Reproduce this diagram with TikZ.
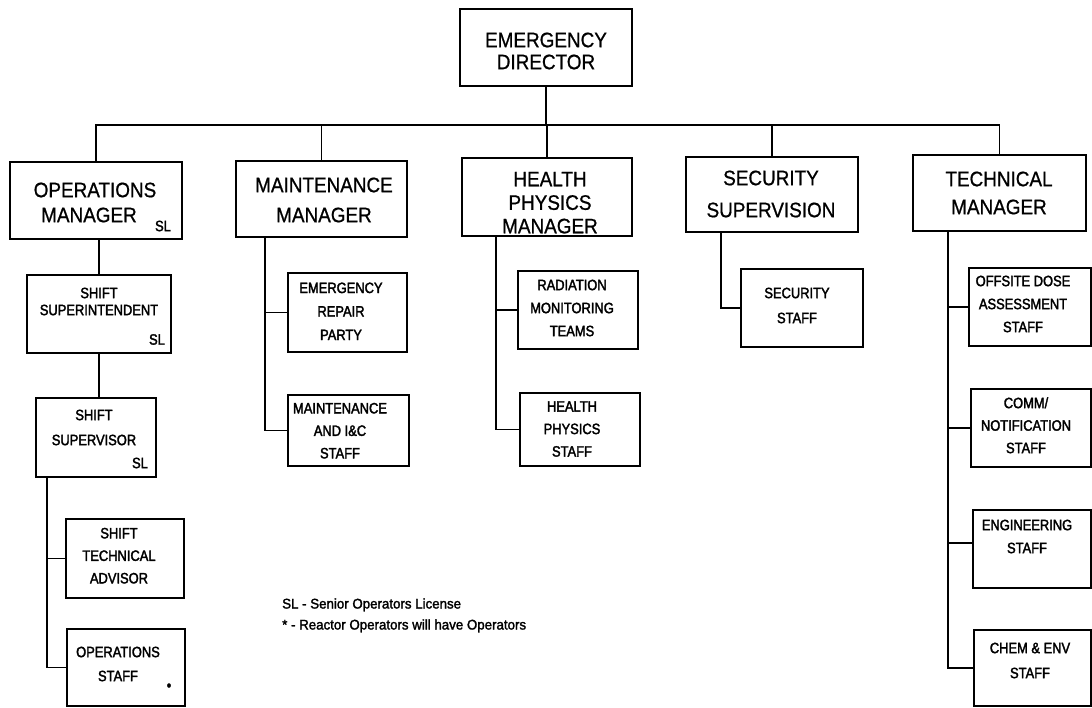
\documentclass[tikz,border=0pt]{standalone}
\usepackage{fontspec}
\setmainfont{Liberation Sans}
\newfontfamily\mgrfont[FakeStretch=0.9,FakeBold=0.8]{Liberation Sans}
\newfontfamily\unitfont[FakeStretch=0.86,FakeBold=2.2]{Liberation Sans}
\newfontfamily\notefont[FakeStretch=0.95,FakeBold=1.8]{Liberation Sans}

\tikzset{
  unitbox/.style 2 args={draw, rectangle, line width=1.8pt, inner sep=0pt, outer sep=0pt,
    minimum width=#1pt, minimum height=#2pt},
  mgrtext/.style={font=\mgrfont\fontsize{21}{#1}\selectfont, align=center, inner sep=0pt},
  unittext/.style={font=\unitfont\fontsize{15}{#1}\selectfont, align=center, inner sep=0pt},
  notetext/.style={font=\notefont\fontsize{14}{17}\selectfont, inner sep=0pt, anchor=base west},
  link/.style={line width=1.8pt},
}

\begin{document}
\begin{tikzpicture}[x=1pt,y=-1pt]
\fill[white] (0,0) rectangle (1092,707);
\useasboundingbox (0,0) rectangle (1092,707);

% ---- top level ----
\node[unitbox={172}{77}] (ed) at (546,47.5) {};
\node[mgrtext=22] at (546,51) {EMERGENCY\\DIRECTOR};

% ---- managers ----
\node[unitbox={172}{77}] (ops) at (96,200.5) {};
\node[mgrtext=25] at (95,190) {OPERATIONS};
\node[mgrtext=25] at (89,215) {MANAGER};
\node[unittext=15] at (163,226) {SL};

\node[unitbox={171}{76}] (maint) at (321.5,199) {};
\node[mgrtext=30] at (324,200) {MAINTENANCE\\MANAGER};

\node[unitbox={170}{78}] (hp) at (547,197) {};
\node[mgrtext=23.5] at (550,202.7) {HEALTH\\PHYSICS\\MANAGER};

\node[unitbox={172}{75}] (sec) at (772,194.5) {};
\node[mgrtext=32] at (771,194) {SECURITY\\SUPERVISION};

\node[unitbox={173}{76}] (tech) at (999.5,193) {};
\node[mgrtext=28] at (999,193) {TECHNICAL\\MANAGER};

% ---- operations chain ----
\node[unitbox={144}{78}] (supt) at (99,314) {};
\node[unittext=17] at (99,301.5) {SHIFT\\SUPERINTENDENT};
\node[unittext=15] at (157,339.5) {SL};

\node[unitbox={120}{79}] (sup) at (96,437.5) {};
\node[unittext=25] at (94,427.5) {SHIFT\\SUPERVISOR};
\node[unittext=15] at (140,463) {SL};

\node[unitbox={118}{79}] (sta) at (125,558.5) {};
\node[unittext=22.5] at (119,555.7) {SHIFT\\TECHNICAL\\ADVISOR};

\node[unitbox={118}{77}] (opst) at (126,667.5) {};
\node[unittext=24] at (118,664) {OPERATIONS\\STAFF};
\node[font=\unitfont\fontsize{15}{15}\selectfont, inner sep=0pt] at (169,687) {•};

% ---- maintenance units ----
\node[unitbox={119}{79}] (erp) at (347.5,312.5) {};
\node[unittext=23.5] at (341,311.3) {EMERGENCY\\REPAIR\\PARTY};

\node[unitbox={121}{71}] (mic) at (348.5,430.5) {};
\node[unittext=22.5] at (340,430.7) {MAINTENANCE\\AND I\&C\\STAFF};

% ---- health physics units ----
\node[unitbox={120}{78}] (rmt) at (578,310) {};
\node[unittext=23] at (572,308) {RADIATION\\MONITORING\\TEAMS};

\node[unitbox={120}{73}] (hps) at (580,429.5) {};
\node[unittext=22.5] at (572,429) {HEALTH\\PHYSICS\\STAFF};

% ---- security unit ----
\node[unitbox={122}{78}] (secst) at (802,308) {};
\node[unittext=25] at (797,305.5) {SECURITY\\STAFF};

% ---- technical units ----
\node[unitbox={122}{78}] (oda) at (1030,307) {};
\node[unittext=23] at (1023,304) {OFFSITE DOSE\\ASSESSMENT\\STAFF};

\node[unitbox={120}{78}] (comm) at (1031,428) {};
\node[unittext=22.5] at (1026,425.3) {COMM/\\NOTIFICATION\\STAFF};

\node[unitbox={118}{78}] (eng) at (1032,549) {};
\node[unittext=23] at (1027,536.5) {ENGINEERING\\STAFF};

\node[unitbox={117}{76}] (chem) at (1032.5,668) {};
\node[unittext=25] at (1030,660.5) {CHEM \& ENV\\STAFF};

% ---- legend ----
\node[notetext] (key1) at (282,608.5) {SL - Senior Operators License};
\node[notetext] (key2) at (282,629.5) {* - Reactor Operators will have Operators};

% ---- connectors ----
\coordinate (bus) at (546,125);
\draw[link] (ed.south) -- (bus);
\draw[link] (ops.north) |- (bus) -| (tech.north);
\draw[link] (maint.north) -- (maint.north |- bus);
\draw[link] (hp.north) -- (hp.north |- bus);
\draw[link] (sec.north) -- (sec.north |- bus);

% operations chain
\draw[link] (supt.north |- ops.south) -- (supt.north);
\draw[link] (supt.south) -- (supt.south |- sup.north);
\coordinate (opsspine) at ([xshift=11pt]sup.south west);
\draw[link] (opsspine) |- (opst.west);
\draw[link] (sta.west -| opsspine) -- (sta.west);

% maintenance
\coordinate (mspine) at ([xshift=29pt]maint.south west);
\draw[link] (mspine) |- (mic.west);
\draw[link] (erp.west -| mspine) -- (erp.west);

% health physics
\coordinate (hspine) at ([xshift=34pt]hp.south west);
\draw[link] (hspine) |- (hps.west);
\draw[link] (rmt.west -| hspine) -- (rmt.west);

% security
\coordinate (sspine) at ([xshift=35pt]sec.south west);
\draw[link] (sspine) |- (secst.west);

% technical
\coordinate (tspine) at ([xshift=35pt]tech.south west);
\draw[link] (tspine) |- (chem.west);
\draw[link] (oda.west -| tspine) -- (oda.west);
\draw[link] (comm.west -| tspine) -- (comm.west);
\draw[link] ([yshift=6pt]eng.west -| tspine) -- ([yshift=6pt]eng.west);
\end{tikzpicture}
\end{document}
